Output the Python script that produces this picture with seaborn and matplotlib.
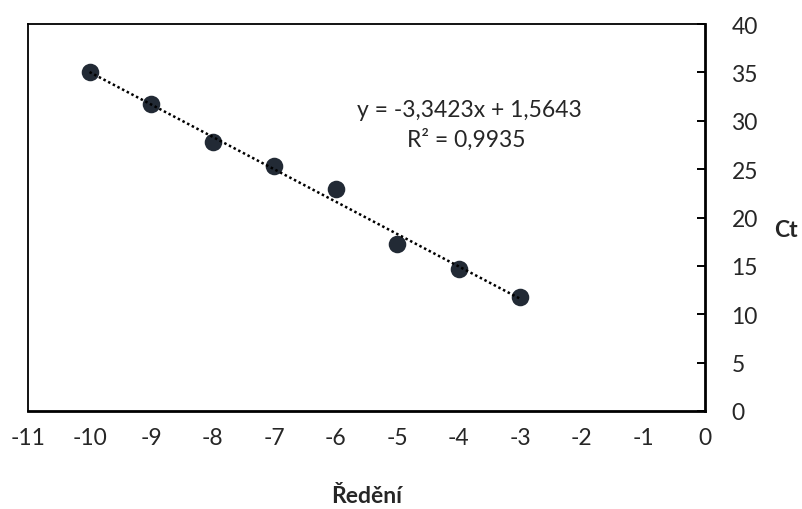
import pandas as pd
import seaborn as sns
import matplotlib.pyplot as plt

# dilution (log) vs Ct
dilution = [-10, -9, -8, -7, -6, -5, -4, -3]
ct = [35.0, 31.7, 27.8, 25.3, 22.9, 17.3, 14.7, 11.8]
eq_text = "y = -3,3423x + 1,5643"
r2_text = "R² = 0,9935"
x_ticks = list(range(-11, 1))
y_ticks = list(range(0, 41, 5))

df = pd.DataFrame({'dilution': dilution, 'ct': ct})

sns.set_theme(style='white')
plt.rcParams['font.family'] = ['Lato', 'DejaVu Sans']

fig = plt.figure(figsize=(8.02, 5.10), dpi=100)
ax = fig.add_axes([28 / 802, 98 / 510, 677 / 802, 387 / 510])

sns.regplot(data=df, x='dilution', y='ct', ax=ax, ci=None,
            scatter_kws={'s': 160, 'color': '#222a35', 'alpha': 1, 'linewidths': 0, 'zorder': 2},
            line_kws={'color': 'black', 'linestyle': (0, (1, 1.1)), 'linewidth': 1.8, 'zorder': 3})

ax.set_xlim(-11, 0)
ax.set_ylim(0, 40)
ax.set_xticks(x_ticks)
ax.set_yticks(y_ticks)
ax.set_xticklabels([str(v) for v in x_ticks])
ax.yaxis.tick_right()
ax.tick_params(axis='x', direction='out', length=4.5, width=1.4, labelsize=16.5, pad=7, color='black')
ax.tick_params(axis='y', direction='in', length=5.5, width=1.4, labelsize=16.5, pad=19, color='black',
               right=True, left=False)
for side in ['left', 'top']:
    ax.spines[side].set_color('black')
    ax.spines[side].set_linewidth(1.3)
for side in ['right', 'bottom']:
    ax.spines[side].set_color('black')
    ax.spines[side].set_linewidth(2.0)

ax.set_xlabel('Ředění', fontsize=16.5, fontweight='bold', va='center')
ax.xaxis.set_label_coords(0.5, -0.218)
ax.set_ylabel('Ct', fontsize=16.5, fontweight='bold', rotation=0, va='center', ha='center')
ax.yaxis.set_label_coords(1.1196, 0.470)

ax.text(-3.835, 31.2, eq_text, fontsize=16.5, ha='center', va='center')
ax.text(-3.884, 28.1, r2_text, fontsize=16.5, ha='center', va='center')

fig.savefig('out.png', dpi=100)
